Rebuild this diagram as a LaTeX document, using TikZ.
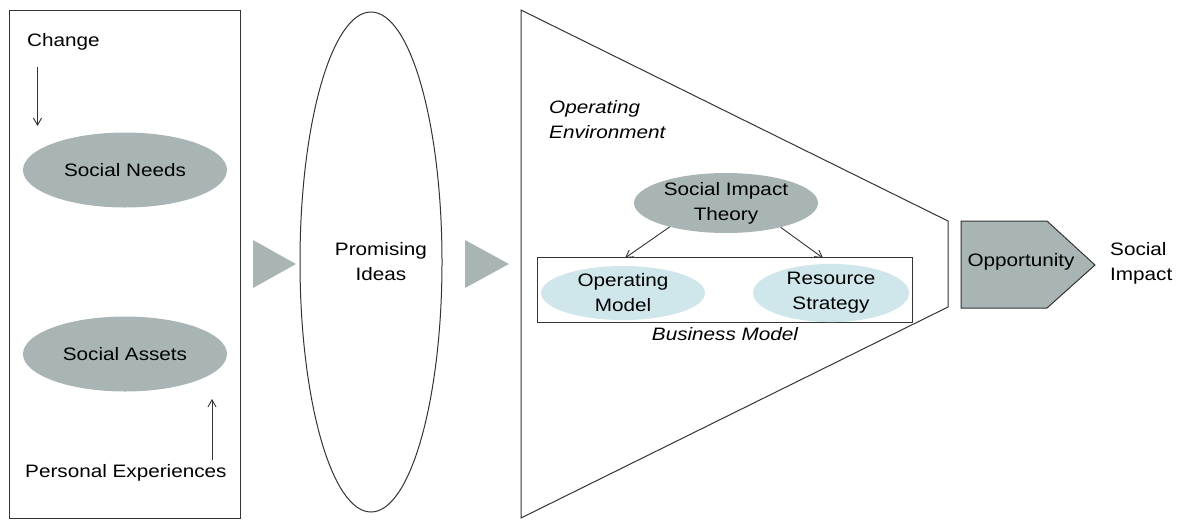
\documentclass[tikz,border=0pt]{standalone}
\usepackage{fontspec}
\setmainfont[FakeStretch=1.15]{Liberation Sans}
\usetikzlibrary{shapes.geometric,arrows.meta}
\definecolor{sgray}{HTML}{A9B5B5}
\definecolor{sblue}{HTML}{CFE6EA}
\definecolor{sline}{HTML}{333333}
\begin{document}
\begin{tikzpicture}[x=1pt,y=-1pt,
  every node/.style={font=\fontsize{18}{25}\selectfont, text=black},
  grayell/.style={ellipse, fill=sgray, inner sep=0pt},
  blueell/.style={ellipse, fill=sblue, inner sep=0pt},
  frame/.style={draw=sline, line width=1pt},
  arr/.style={draw=sline, line width=0.9pt, -{Straight Barb[length=7pt,width=8pt]}},
  lbl/.style={align=left, inner sep=0pt},
  ctr/.style={align=center, inner sep=0pt}]
\useasboundingbox (0,0) rectangle (1182,520);
% left box
\draw[frame] (9,10) rectangle (240,518);
\node[lbl, anchor=west] (change) at (27,42) {Change};
\coordinate (chs) at (37.5,67);
\coordinate (che) at (37.5,126);
\draw[arr] (chs) -- (che);
\node[grayell, minimum width=204, minimum height=75] (needs) at (125,170) {Social Needs};
\node[grayell, minimum width=204, minimum height=75] (assets) at (125,354) {Social Assets};
\node[lbl, anchor=west] (pers) at (25,473) {Personal Experiences};
\coordinate (pes) at (212,460);
\coordinate (pee) at (212,399);
\draw[arr] (pes) -- (pee);
% triangles
\fill[sgray] (253,240) -- (253,288) -- (296,264) -- cycle;
\fill[sgray] (465,240) -- (465,288) -- (509,264) -- cycle;
% promising ideas
\node[ellipse, frame, minimum width=142, minimum height=500, inner sep=0pt] (ideas) at (371,262) {};
\node[ctr] (ideastxt) at (381,262) {Promising\\Ideas};
% funnel
\draw[frame] (521,10) -- (948,221) -- (948,307) -- (521,518) -- cycle;
\node[lbl, anchor=north west, font=\fontsize{18}{25}\selectfont\itshape] (env) at (549,100) {Operating\\Environment};
% social impact theory
\node[grayell, minimum width=184, minimum height=60, align=center] (sit) at (726,203) {Social Impact\\Theory};
% business model box
\draw[frame] (537,257) rectangle (912,322);
\node[blueell, minimum width=164, minimum height=54, align=center] (opm) at (623,293) {Operating\\Model};
\node[blueell, minimum width=156, minimum height=54, align=center] (res) at (831,293) {Resource\\Strategy};
\node[ctr, font=\fontsize{18}{25}\selectfont\itshape] (bm) at (725,334) {Business Model};
\coordinate (t1) at (625,258);
\coordinate (t2) at (823,258);
\draw[arr] (sit.203) -- (t1);
\draw[arr] (sit.336) -- (t2);
% opportunity
\draw[fill=sgray, draw=sline, line width=1pt] (961,221) -- (1047,221) -- (1095,265) -- (1047,308) -- (961,308) -- cycle;
\node[ctr] (opp) at (1021,262) {Opportunity};
\node[lbl, anchor=west] (impact) at (1110,263) {Social\\Impact};
\end{tikzpicture}
\end{document}
